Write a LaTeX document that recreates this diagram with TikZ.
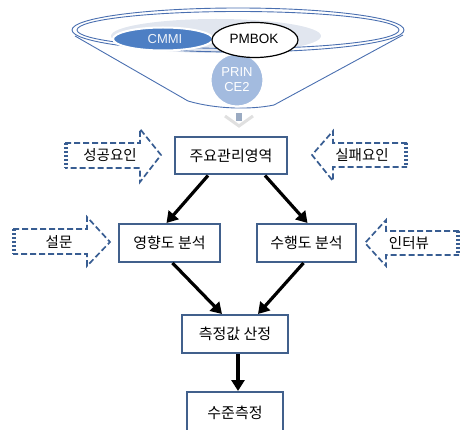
\documentclass[tikz,border=0pt]{standalone}
\usepackage{fontspec}
\setmainfont{Liberation Sans}
\newfontfamily\kr{Noto Sans CJK KR}
\usetikzlibrary{arrows.meta}
\definecolor{boxblue}{HTML}{41608C}
\definecolor{dashblue}{HTML}{385D92}
\definecolor{funnelblue}{HTML}{4A6FB0}
\definecolor{cmmiblue}{HTML}{4D7FC4}
\definecolor{princeblue}{HTML}{A3BBDF}
\definecolor{greyell}{HTML}{E1E6EF}

\begin{document}
\begin{tikzpicture}[x=1pt,y=-1pt,
    stepbox/.style={draw=boxblue, line width=2pt, fill=white, inner sep=0pt,
        font=\kr\fontsize{15}{17}\selectfont},
    flow/.style={line width=3.2pt, -{Triangle[length=11pt,width=13pt]}},
    sidearrow/.style={draw=dashblue, line width=1.7pt, dash pattern=on 6pt off 3pt},
    stripe/.style={draw=dashblue, line width=4.5pt, dash pattern=on 2.5pt off 1.5pt},
    sidetext/.style={font=\kr\fontsize{14.5}{16}\selectfont},
    funnel/.style={draw=funnelblue, line width=0.9pt}]
    \useasboundingbox (0,0) rectangle (463,430);
    \clip (0,0) rectangle (463,430);

    % funnel on top
    \fill[greyell] (216,36) ellipse [x radius=105, y radius=17];
    \draw[funnel] (75,36) -- (188,101) .. controls (215,109) and (250,110) .. (274,105) -- (403,35);
    \draw[funnel] (238,30) ellipse [x radius=166, y radius=22];
    \draw[funnel] (238,30) ellipse [x radius=161, y radius=18.5];
    \fill[cmmiblue, draw=white, line width=2pt] (163,39) ellipse [x radius=50, y radius=11.5];
    \node[text=white!90!cmmiblue, font=\fontsize{13}{15}\selectfont] (cmmi) at (165,39) {CMMI};
    \fill[princeblue, draw=white, line width=2pt] (237,80) circle (26.5);
    \node[text=white, align=center, font=\fontsize{13}{15}\selectfont] (prince) at (237,80) {PRIN\\CE2};
    \draw[fill=white, line width=1.2pt] (255,40) ellipse [x radius=43, y radius=17.5];
    \node[font=\fontsize{13.5}{15}\selectfont] (pmbok) at (254,39) {PMBOK};
    \fill[princeblue!80!black!80] (236,113) rectangle (242,121);
    \draw[black!12, line width=3pt] (225,116) -- (239,126) -- (253,116);

    % flow boxes
    \node[stepbox, minimum width=112pt, minimum height=37pt] (area) at (231,156) {주요관리영역};
    \node[stepbox, minimum width=101pt, minimum height=38pt] (impact) at (169.5,243) {영향도 분석};
    \node[stepbox, minimum width=99pt, minimum height=38pt] (perf) at (306.5,243) {수행도 분석};
    \node[stepbox, minimum width=106pt, minimum height=38pt] (measure) at (235,334) {측정값 산정};
    \node[stepbox, minimum width=96pt, minimum height=42pt] (level) at (235,413) {수준측정};

    \draw[flow] ([xshift=-23pt]area.south) -- ([xshift=-3pt]impact.north);
    \draw[flow] ([xshift=34pt]area.south) -- ([xshift=1pt]perf.north);
    \draw[flow] ([xshift=3pt]impact.south) -- ([xshift=-13pt]measure.north);
    \draw[flow] ([xshift=-3pt]perf.south) -- ([xshift=23pt]measure.north);
    \draw[flow] ([xshift=3pt]measure.south) -- ([xshift=3pt]level.north);

    % side inputs
    \draw[sidearrow] (65,143) -- (140,143) -- (140,129) -- (161,155) -- (140,182) -- (140,168) -- (65,168);
    \draw[stripe] (66,143) -- (66,168);
    \node[sidetext] (succ) at (110,155) {성공요인};
    \draw[sidearrow] (407,143) -- (333,143) -- (333,131) -- (312,155) -- (333,181) -- (333,167) -- (407,167);
    \draw[stripe] (406,143) -- (406,167);
    \node[sidetext] (fail) at (362,155) {실패요인};
    \draw[sidearrow] (13,229) -- (87,229) -- (87,217) -- (110,242) -- (87,266) -- (87,254) -- (13,254);
    \draw[stripe] (14,229) -- (14,254);
    \node[sidetext] (survey) at (59,242) {설문};
    \draw[sidearrow] (459,231) -- (386,231) -- (386,220) -- (365,243) -- (386,266) -- (386,255) -- (459,255);
    \draw[stripe] (458,231) -- (458,255);
    \node[sidetext] (interview) at (409,243) {인터뷰};
\end{tikzpicture}
\end{document}
